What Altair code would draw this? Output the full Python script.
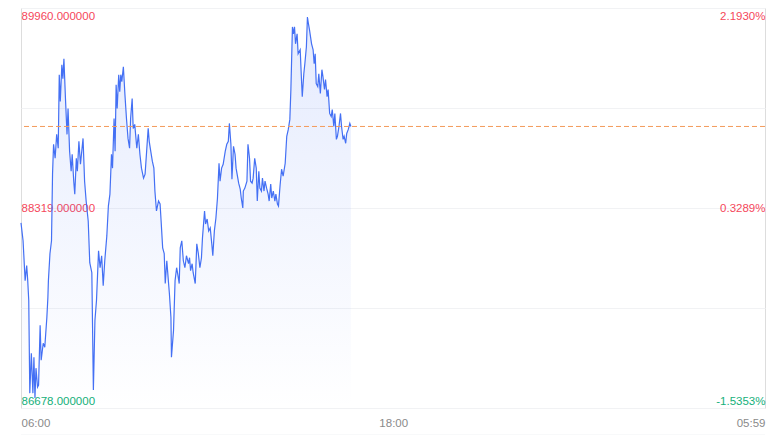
import altair as alt
import pandas as pd

# minutes after 06:00
minutes = [
    0, 4, 8, 11, 13, 15, 17, 20, 23, 25,
    27, 29, 32, 34, 37, 39, 43, 46, 50, 52,
    53, 56, 59, 61, 63, 66, 69, 72, 74, 76,
    79, 81, 83, 86, 89, 91, 94, 97, 99, 102,
    104, 107, 109, 112, 115, 120, 123, 126, 130, 133,
    137, 140, 143, 146, 150, 153, 156, 159, 162, 166,
    169, 172, 175, 177, 180, 182, 184, 186, 189, 191,
    193, 195, 198, 201, 204, 207, 210, 212, 215, 217,
    220, 224, 227, 230, 233, 237, 240, 243, 246, 248,
    251, 254, 257, 259, 262, 266, 269, 271, 274, 277,
    279, 282, 285, 287, 290, 291, 295, 298, 301, 303,
    306, 308, 311, 314, 317, 320, 324, 326, 328, 331,
    333, 337, 340, 343, 346, 349, 351, 355, 357, 360,
    363, 366, 369, 371, 374, 377, 380, 383, 385, 388,
    391, 395, 398, 401, 403, 406, 408, 411, 414, 416,
    418, 421, 424, 426, 429, 430, 433, 437, 439, 442,
    444, 447, 449, 452, 455, 457, 460, 462, 465, 467,
    470, 472, 475, 478, 480, 483, 485, 488, 491, 493,
    496, 498, 501, 504, 507, 511, 514, 517, 520, 522,
    525, 527, 529, 531, 534, 536, 540, 542, 544, 547,
    549, 552, 554, 556, 558, 560, 562, 565, 567, 569,
    571, 574, 576, 579, 582, 584, 587, 589, 592, 594,
    597, 600, 602, 605, 607, 610, 612, 615, 618, 620,
    623, 625, 628, 630, 633, 636, 638,
]

prices = [
    88197, 88050, 87723, 87846, 87723, 87560, 86800, 87127, 86800, 87094,
    86760, 87005, 86850, 86866, 87356, 87070, 87209, 87176, 87421, 87584,
    87723, 87944, 88050, 88597, 88842, 88727, 88923, 88809, 89413, 89193,
    89495, 89380, 89544, 89217, 88923, 89135, 88784, 88621, 88760, 88539,
    88433, 88727, 88621, 88866, 88678, 88890, 88539, 88376, 88213, 87870,
    87788, 86825, 87396, 87560, 87968, 87829, 87927, 87682, 87886, 88090,
    88335, 88433, 88760, 88646, 89054, 88784, 89331, 89135, 89413, 89274,
    89413, 89356, 89478, 89250, 89054, 88890, 88809, 89054, 89217, 88972,
    89005, 88809, 88923, 88760, 88646, 88564, 88597, 88784, 88972, 88866,
    88784, 88703, 88646, 88458, 88295, 88376, 88352, 88213, 87992, 87944,
    87699, 87886, 87723, 87617, 87421, 87094, 87315, 87723, 87829, 87780,
    87699, 87992, 88050, 87886, 87829, 87927, 87862, 87911, 87805, 87862,
    87788, 87699, 88025, 87944, 87829, 87911, 88074, 88295, 88188, 88229,
    88131, 88156, 88025, 87927, 88131, 88237, 88401, 88686, 88539, 88646,
    88678, 88784, 88842, 88866, 89013, 88842, 88556, 88825, 88760, 88646,
    88597, 88523, 88474, 88401, 88319, 88458, 88482, 88539, 88842, 88727,
    88539, 88523, 88564, 88727, 88646, 88376, 88621, 88482, 88458, 88564,
    88458, 88539, 88482, 88433, 88376, 88515, 88401, 88458, 88376, 88433,
    88352, 88335, 88499, 88637, 88580, 88686, 88907, 88964, 89046, 89291,
    89805, 89748, 89805, 89666, 89748, 89584, 89617, 89421, 89233, 89421,
    89503, 89642, 89886, 89829, 89780, 89723, 89666, 89617, 89503, 89584,
    89340, 89315, 89421, 89258, 89454, 89397, 89291, 89372, 89233, 89291,
    89095, 89070, 89127, 88988, 89095, 88882, 88907, 88988, 89095, 88988,
    88882, 88907, 88850, 88931, 88964, 89013, 88988,
]

PRE_CLOSE = 88029.5
Y_MIN, Y_MAX = 86678, 89960
grid_values = [86678, 87498.5, 88319, 89139.5, 89960]
label_values = [86678, 88319, 89960]
x_domain = [0, 1439]
x_tick_values = [0, 720, 1439]
x_tick_labels = ["06:00", "18:00", "05:59"]

RED = "#f5475b"
GREEN = "#14b07a"
BLUE = "#4470f4"
ORANGE = "#f39a5a"
GRID = "#f1f2f4"
FONT = "Liberation Sans"

df = pd.DataFrame({"minute": minutes, "price": prices})
last_df = pd.DataFrame({"price": [prices[-1]]})

show_test = " || ".join(f"datum.value == {v}" for v in label_values)
x_label_expr = " : ".join(
    f"datum.value == {v} ? '{t}'" for v, t in zip(x_tick_values, x_tick_labels)
) + " : ''"

color_cond = {
    "condition": {"test": f"datum.value < {PRE_CLOSE}", "value": GREEN},
    "value": RED,
}

x_enc = alt.X(
    "minute:Q",
    scale=alt.Scale(domain=x_domain, nice=False, zero=False),
    axis=alt.Axis(
        values=x_tick_values, labelExpr=x_label_expr, title=None,
        grid=False, domain=False, ticks=False, tickSize=0,
        labelFlush=True, labelPadding=9, labelColor="#8a8a8a",
        labelFontSize=11.5, labelFont=FONT,
    ),
)

y_scale = alt.Scale(domain=[Y_MIN, Y_MAX], nice=False, zero=False)

left_axis = alt.Axis(
    orient="left", values=grid_values, title=None,
    labelExpr=f"({show_test}) ? format(datum.value, '.6f') : ''",
    grid=True, gridColor=GRID, gridWidth=1, domain=False, ticks=False, tickSize=0,
    labelAlign="left", labelPadding=0, labelFlush=True, labelFlushOffset=-2,
    labelColor=color_cond, labelFontSize=11.5, labelFont=FONT,
)

right_axis = alt.Axis(
    orient="right", values=grid_values, title=None,
    labelExpr=(
        f"({show_test}) ? replace(format((datum.value / {PRE_CLOSE} - 1) * 100, '.4f'), '\u2212', '-') + '%' : ''"
    ),
    grid=False, domain=False, ticks=False, tickSize=0,
    labelAlign="right", labelPadding=0, labelFlush=True, labelFlushOffset=-2,
    labelColor=color_cond, labelFontSize=11.5, labelFont=FONT,
)

gradient = alt.Gradient(
    gradient="linear",
    stops=[
        alt.GradientStop(color="rgba(68,112,244,0.14)", offset=0),
        alt.GradientStop(color="rgba(68,112,244,0.0)", offset=1),
    ],
    x1=1, x2=1, y1=0, y2=1,
)

area = alt.Chart(df).mark_area(color=gradient).encode(
    x=x_enc,
    y=alt.Y("price:Q", scale=y_scale, axis=left_axis),
    y2=alt.datum(Y_MIN),
)

line = alt.Chart(df).mark_line(color=BLUE, strokeWidth=1.2).encode(
    x=x_enc,
    y=alt.Y("price:Q", scale=y_scale, axis=None),
)

ref = alt.Chart(last_df).mark_rule(
    color=ORANGE, strokeDash=[5, 3], strokeWidth=1
).encode(
    y=alt.Y("price:Q", scale=y_scale, axis=right_axis),
)

bottom_line = alt.Chart(last_df).mark_rule(color=GRID, strokeWidth=1).encode(
    x=alt.value(0), x2=alt.value(744), y=alt.value(427)
)

chart = (
    alt.layer(area, line, ref, bottom_line)
    .resolve_axis(y="independent")
    .properties(
        width=744, height=400,
        autosize=alt.AutoSizeParams(type="none"),
        padding={"left": 13, "top": 0, "right": 8, "bottom": 27},
    )
    .configure_view(stroke=None)
    .configure(background="white")
)

chart.save("out.html", embed_options={"renderer": "svg", "actions": False})
